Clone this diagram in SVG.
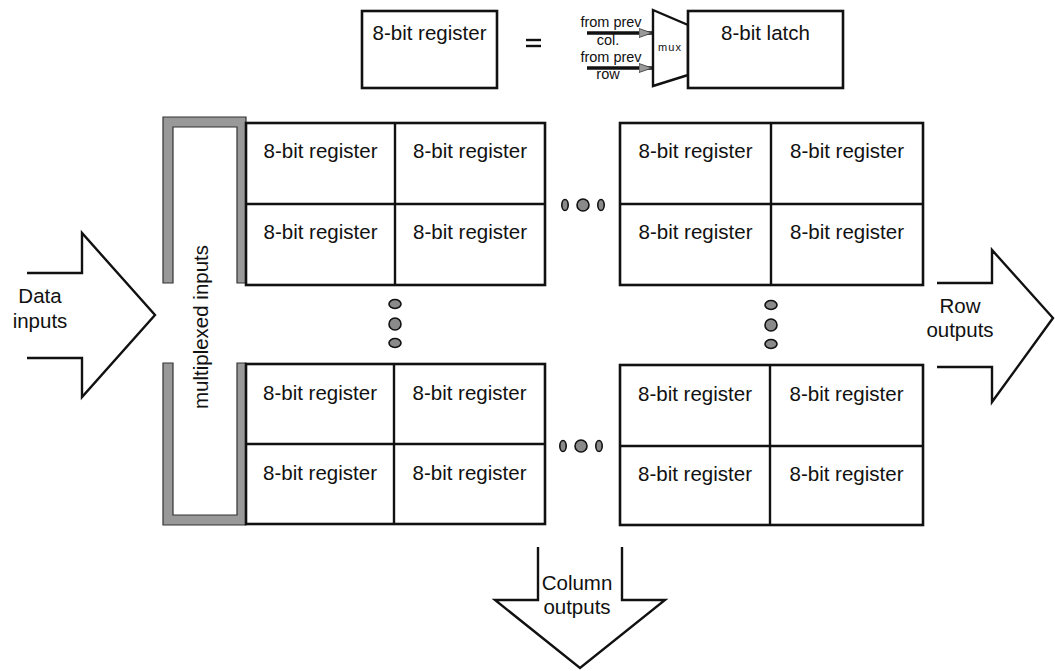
<svg xmlns="http://www.w3.org/2000/svg" width="1055" height="671" viewBox="0 0 1055 671">
  <defs>
    <style>
      .box { fill: #fff; stroke: #111; stroke-width: 2.6; }
      .div { stroke: #111; stroke-width: 2.4; fill: none; }
      .lbl { font-family: "Liberation Sans", Arial, sans-serif; font-size: 20.5px; fill: #111; text-anchor: middle; }
      .sm { font-family: "Liberation Sans", Arial, sans-serif; font-size: 14.5px; fill: #111; text-anchor: middle; }
      .big { fill: #fff; stroke: #111; stroke-width: 2.4; stroke-linejoin: miter; }
      .bracket { fill: #999; stroke: #333; stroke-width: 1.2; }
      .dot { fill: #8a8a8a; stroke: #111; stroke-width: 1.6; }
      .wire { stroke: #111; stroke-width: 3.4; fill: none; }
    </style>
    <marker id="tri" markerWidth="15" markerHeight="11" refX="13" refY="5" orient="auto" markerUnits="userSpaceOnUse">
      <path d="M0,0.5 L13,5 L0,9.5 Z" fill="#999" stroke="#333" stroke-width="0.8"/>
    </marker>
  </defs>

  <!-- legend: register = mux + latch -->
  <g id="legend-register">
    <rect class="box" x="362" y="11" width="135" height="77"/>
    <text class="lbl" x="429.5" y="40">8-bit register</text>
  </g>
  <g id="legend-equals">
    <line x1="526" y1="40" x2="541" y2="40" stroke="#111" stroke-width="2.4"/>
    <line x1="526" y1="46" x2="541" y2="46" stroke="#111" stroke-width="2.4"/>
  </g>
  <g id="legend-mux">
    <path class="big" d="M653,10 L688,25 L688,75 L653,86 Z"/>
    <text x="670" y="51" font-family="Liberation Sans, Arial, sans-serif" font-size="11" fill="#111" text-anchor="middle" letter-spacing="1">mux</text>
  </g>
  <g id="legend-latch">
    <rect class="box" x="688" y="11" width="155" height="77"/>
    <text class="lbl" x="765.5" y="40">8-bit latch</text>
  </g>
  <g id="legend-inputs">
    <text class="sm" x="611" y="27">from prev</text>
    <text class="sm" x="608" y="45">col.</text>
    <text class="sm" x="611" y="62">from prev</text>
    <text class="sm" x="608" y="79">row</text>
  </g>

  <!-- multiplexed input bus -->
  <g id="mux-inputs">
    <path class="bracket" d="M163,117 H246 V283 H237 V127 H173 V283 H163 Z"/>
    <path class="bracket" d="M163,363 V525 H246 V363 H237 V515 H173 V363 Z"/>
    <text class="lbl" transform="translate(208,327) rotate(-90)" x="0" y="0">multiplexed inputs</text>
  </g>

  <!-- register array: top-left block -->
  <g id="block-top-left">
    <rect class="box" x="246" y="123" width="299" height="162"/>
    <line class="div" x1="395" y1="123" x2="395" y2="285"/>
    <line class="div" x1="246" y1="204" x2="545" y2="204"/>
    <text class="lbl" x="320.5" y="158">8-bit register</text>
    <text class="lbl" x="470" y="158">8-bit register</text>
    <text class="lbl" x="320.5" y="239">8-bit register</text>
    <text class="lbl" x="470" y="239">8-bit register</text>
  </g>

  <!-- top-right block -->
  <g id="block-top-right">
    <rect class="box" x="620" y="123" width="303" height="162"/>
    <line class="div" x1="771" y1="123" x2="771" y2="285"/>
    <line class="div" x1="620" y1="204" x2="923" y2="204"/>
    <text class="lbl" x="695.5" y="158">8-bit register</text>
    <text class="lbl" x="847" y="158">8-bit register</text>
    <text class="lbl" x="695.5" y="239">8-bit register</text>
    <text class="lbl" x="847" y="239">8-bit register</text>
  </g>

  <!-- bottom-left block -->
  <g id="block-bottom-left">
    <rect class="box" x="246" y="364" width="299" height="160"/>
    <line class="div" x1="394" y1="364" x2="394" y2="524"/>
    <line class="div" x1="246" y1="444" x2="545" y2="444"/>
    <text class="lbl" x="320" y="400">8-bit register</text>
    <text class="lbl" x="469.5" y="400">8-bit register</text>
    <text class="lbl" x="320" y="480">8-bit register</text>
    <text class="lbl" x="469.5" y="480">8-bit register</text>
  </g>

  <!-- bottom-right block -->
  <g id="block-bottom-right">
    <rect class="box" x="620" y="365" width="303" height="160"/>
    <line class="div" x1="770" y1="365" x2="770" y2="525"/>
    <line class="div" x1="620" y1="446" x2="923" y2="446"/>
    <text class="lbl" x="695" y="401">8-bit register</text>
    <text class="lbl" x="846.5" y="401">8-bit register</text>
    <text class="lbl" x="695" y="481">8-bit register</text>
    <text class="lbl" x="846.5" y="481">8-bit register</text>
  </g>

  <!-- ellipsis dots -->
  <g id="dots-top">
    <ellipse class="dot" cx="565" cy="205" rx="3.2" ry="5.5"/>
    <circle class="dot" cx="583" cy="205" r="6"/>
    <ellipse class="dot" cx="601" cy="205" rx="3.2" ry="5.5"/>
  </g>
  <g id="dots-bottom">
    <ellipse class="dot" cx="563" cy="446" rx="3.2" ry="5.5"/>
    <circle class="dot" cx="581" cy="446" r="6"/>
    <ellipse class="dot" cx="599" cy="446" rx="3.2" ry="5.5"/>
  </g>
  <g id="dots-left">
    <ellipse class="dot" cx="395" cy="304" rx="6" ry="4.5"/>
    <circle class="dot" cx="395" cy="324" r="6"/>
    <ellipse class="dot" cx="395" cy="343" rx="6" ry="4.5"/>
  </g>
  <g id="dots-right">
    <ellipse class="dot" cx="771" cy="305" rx="6" ry="4.5"/>
    <circle class="dot" cx="771" cy="325" r="6"/>
    <ellipse class="dot" cx="771" cy="344" rx="6" ry="4.5"/>
  </g>

  <!-- data flow arrows -->
  <g id="data-inputs">
    <path class="big" fill="none" d="M27,273 H82 V233 L155,315 L82,397 V358 H27"/>
    <text class="lbl" x="40" y="303">Data</text>
    <text class="lbl" x="40" y="328">inputs</text>
  </g>
  <g id="row-outputs">
    <path class="big" fill="none" d="M937,283 H992 V250 L1053,318 L992,402 V367 H937"/>
    <text class="lbl" x="960" y="313">Row</text>
    <text class="lbl" x="960" y="337">outputs</text>
  </g>
  <g id="column-outputs">
    <path class="big" fill="none" d="M538,547 V600 H495 L580,668 L665,600 H622 V547"/>
    <text class="lbl" x="577" y="590">Column</text>
    <text class="lbl" x="577" y="614">outputs</text>
  </g>

  <!-- connectors into the mux -->
  <g id="connectors">
    <line class="wire" x1="587" y1="33" x2="652" y2="33" marker-end="url(#tri)"/>
    <line class="wire" x1="587" y1="68" x2="652" y2="68" marker-end="url(#tri)"/>
  </g>
</svg>
